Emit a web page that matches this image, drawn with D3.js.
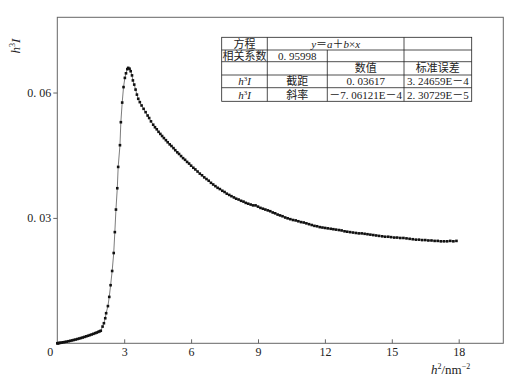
<!DOCTYPE html>
<html>
<head>
<meta charset="utf-8">
<script src="https://cdn.jsdelivr.net/npm/d3@7"></script>
<style>
body { margin: 0; background: #fff; }
text { font-family: "Liberation Serif", "Noto Sans CJK SC", serif; fill: #222; }
</style>
</head>
<body>
<div id="chart"></div>
<script>
// h^2 (nm^-2) values
var h2 = [
	0.00, 0.02, 0.05, 0.09, 0.14, 0.20, 0.27, 0.34, 0.42, 0.50, 0.58, 0.66, 0.74, 0.82, 0.90, 0.98,
	1.06, 1.14, 1.22, 1.30, 1.38, 1.46, 1.54, 1.62, 1.70, 1.77, 1.84, 1.90,
	1.95, 2.03, 2.09, 2.15, 2.19, 2.27, 2.33, 2.39, 2.46, 2.53, 2.58, 2.63, 2.69, 2.73, 2.81, 2.85,
	2.91, 2.97, 3.03, 3.08, 3.14, 3.18, 3.24, 3.29, 3.35, 3.39, 3.45, 3.51, 3.57, 3.63, 3.70, 3.78,
	3.87, 3.96, 4.05, 4.12, 4.20, 4.30,
	4.38, 4.46, 4.54, 4.62, 4.70, 4.78, 4.87, 4.95, 5.04, 5.12, 5.21, 5.29, 5.38, 5.46, 5.55, 5.64,
	5.73, 5.82, 5.91, 6.00, 6.10, 6.19, 6.29, 6.39, 6.49, 6.59, 6.69, 6.79, 6.89, 6.99, 7.09, 7.19,
	7.29, 7.40, 7.50, 7.60, 7.71, 7.81, 7.92, 8.02, 8.13, 8.24, 8.35, 8.45, 8.56, 8.67, 8.78, 8.89,
	9.00, 9.11, 9.22, 9.33, 9.44, 9.55, 9.66, 9.77, 9.88, 9.99, 10.10, 10.22, 10.33, 10.45, 10.57,
	10.69, 10.81, 10.93, 11.05, 11.17, 11.29, 11.41, 11.53, 11.65, 11.77, 11.89, 12.01, 12.13, 12.26,
	12.38, 12.50, 12.63, 12.75, 12.88, 13.00, 13.13, 13.26, 13.39, 13.52, 13.65, 13.78, 13.91, 14.04,
	14.17, 14.30, 14.43, 14.57, 14.70, 14.84, 14.97, 15.11, 15.24, 15.38, 15.52, 15.66, 15.80, 15.94,
	16.08, 16.22, 16.36, 16.50, 16.64, 16.78, 16.92, 17.06, 17.20, 17.34, 17.48, 17.62, 17.76, 17.90
];
// h^3 I values
var h3I = [
	0.00000, 0.00002, 0.00004, 0.00008, 0.00012, 0.00018, 0.00024, 0.00032, 0.00040, 0.00049, 0.00059, 0.00069, 0.00080, 0.00090, 0.00102, 0.00114,
	0.00126, 0.00139, 0.00153, 0.00167, 0.00181, 0.00196, 0.00211, 0.00227, 0.00243, 0.00258, 0.00273, 0.00288,
	0.0030, 0.0040, 0.0048, 0.0060, 0.0072, 0.0089, 0.0111, 0.0139, 0.0173, 0.0216, 0.0266, 0.0320, 0.0371, 0.0422, 0.0474, 0.0529,
	0.0576, 0.0613, 0.0635, 0.0646, 0.0656, 0.0659, 0.0657, 0.0651, 0.0641, 0.0629, 0.0619, 0.0607, 0.0595, 0.0585, 0.0577, 0.0569,
	0.0561, 0.0553, 0.0545, 0.0539, 0.0531, 0.0523,
	0.0517, 0.0512, 0.0506, 0.0501, 0.0496, 0.0491, 0.0486, 0.0481, 0.0476, 0.0472, 0.0467, 0.0462, 0.0457, 0.0453, 0.0448, 0.0443,
	0.0439, 0.0434, 0.0430, 0.0425, 0.0420, 0.0416, 0.0411, 0.0406, 0.0402, 0.0397, 0.0393, 0.0389, 0.0384, 0.0380, 0.0376, 0.0372,
	0.0369, 0.0365, 0.0362, 0.0358, 0.0355, 0.0352, 0.0349, 0.0346, 0.0344, 0.0341, 0.0339, 0.0336, 0.0334, 0.0332, 0.0330, 0.0330,
	0.0327, 0.0324, 0.0322, 0.0320, 0.0318, 0.0316, 0.0313, 0.0311, 0.0308, 0.0306, 0.0304, 0.0301, 0.0299, 0.0297, 0.0295,
	0.0294, 0.0292, 0.0290, 0.0289, 0.0287, 0.0285, 0.0283, 0.0281, 0.0280, 0.0278, 0.0277, 0.0276, 0.0275, 0.0274,
	0.0273, 0.0272, 0.0271, 0.0270, 0.0268, 0.0267, 0.0266, 0.0265, 0.0264, 0.0263, 0.0263, 0.0262, 0.0261, 0.0260,
	0.0259, 0.0258, 0.0257, 0.0256, 0.0255, 0.0255, 0.0254, 0.0253, 0.0253, 0.0252, 0.0252, 0.0251, 0.0250, 0.0249,
	0.0248, 0.0248, 0.0247, 0.0247, 0.0246, 0.0246, 0.0245, 0.0245, 0.0244, 0.0244, 0.0244, 0.0245, 0.0244, 0.0245
];

var xTicks = [3, 6, 9, 12, 15, 18];
var yTicks = [0.03, 0.06];
var yTickLabels = ["0. 03", "0. 06"];

// fit table (row 1 has a merged cell over columns 2-3)
var tableRows = [
	["方程", "y=a+b×x", null, ""],
	["相关系数", "0. 95998", "", ""],
	["", "", "数值", "标准误差"],
	["h3I", "截距", "0. 03617", "3. 24659E－4"],
	["h3I", "斜率", "－7. 06121E－4", "2. 30729E－5"]
];

var width = 527, height = 388;
var margin = {top: 17.3, right: 23.7, bottom: 44.7, left: 57.3};

var svg = d3.select("#chart").append("svg")
	.attr("width", width)
	.attr("height", height);

var x = d3.scaleLinear().domain([0, 20]).range([margin.left, width - margin.right]);
var y = d3.scaleLinear().domain([0, 0.078]).range([height - margin.bottom, margin.top]);

// frame
svg.append("rect")
	.attr("x", x(0)).attr("y", y(0.078))
	.attr("width", x(20) - x(0)).attr("height", y(0) - y(0.078))
	.attr("fill", "none").attr("stroke", "#666").attr("stroke-width", 1);

// x axis, ticks pointing inward
var xAxis = svg.append("g")
	.attr("transform", "translate(0," + y(0) + ")")
	.call(d3.axisBottom(x).tickValues(xTicks).tickSize(-4).tickPadding(4).tickFormat(d3.format("d")));
xAxis.select(".domain").remove();
xAxis.selectAll("line").attr("stroke", "#666");
xAxis.selectAll("text").attr("font-size", 12).attr("font-family", "Liberation Serif").attr("fill", "#222");

// y axis, ticks outward
var yAxis = svg.append("g")
	.attr("transform", "translate(" + x(0) + ",0)")
	.call(d3.axisLeft(y).tickValues(yTicks).tickSize(4).tickPadding(2)
		.tickFormat(function(d, i) { return yTickLabels[i]; }));
yAxis.select(".domain").remove();
yAxis.selectAll("line").attr("stroke", "#666");
yAxis.selectAll("text").attr("font-size", 12).attr("font-family", "Liberation Serif").attr("fill", "#222");

// shared origin label
svg.append("text")
	.attr("x", x(0) - 7).attr("y", y(0) + 13)
	.attr("text-anchor", "middle").attr("font-size", 12)
	.text("0");

// axis titles
var xt = svg.append("text")
	.attr("x", 431).attr("y", 374)
	.attr("font-size", 13);
xt.append("tspan").attr("font-style", "italic").text("h");
xt.append("tspan").attr("font-size", 8).attr("dy", -5).text("2");
xt.append("tspan").attr("dy", 5).text("/nm");
xt.append("tspan").attr("font-size", 8).attr("dy", -5).text("−2");

var yt = svg.append("text")
	.attr("transform", "translate(20,46) rotate(-90)")
	.attr("text-anchor", "middle")
	.attr("font-size", 13);
yt.append("tspan").attr("font-style", "italic").text("h");
yt.append("tspan").attr("font-size", 8).attr("dy", -5).text("3");
yt.append("tspan").attr("dy", 5).attr("font-style", "italic").text("I");

// curve
var pts = h2.map(function(d, i) { return [d, h3I[i]]; });

svg.append("path")
	.datum(pts)
	.attr("fill", "none")
	.attr("stroke", "#444")
	.attr("stroke-width", 0.7)
	.attr("d", d3.line().x(function(d) { return x(d[0]); }).y(function(d) { return y(d[1]); }));

svg.selectAll(".pt")
	.data(pts)
	.enter().append("rect")
	.attr("class", "pt")
	.attr("x", function(d) { return x(d[0]) - 1.3; })
	.attr("y", function(d) { return y(d[1]) - 1.3; })
	.attr("width", 2.6).attr("height", 2.6)
	.attr("fill", "#111");

// table
var colX = [221.7, 267.3, 327.3, 404, 471.7];
var rowY = [37.3, 50, 61.7, 75, 87.7, 101.3];
var tbl = svg.append("g").attr("stroke", "#222").attr("stroke-width", 0.8);

tbl.append("rect")
	.attr("x", colX[0]).attr("y", rowY[0])
	.attr("width", colX[4] - colX[0]).attr("height", rowY[5] - rowY[0])
	.attr("fill", "#fff");
rowY.slice(1, 5).forEach(function(ry) {
	tbl.append("line").attr("x1", colX[0]).attr("x2", colX[4]).attr("y1", ry).attr("y2", ry);
});
[1, 2, 3].forEach(function(c) {
	tbl.append("line")
		.attr("x1", colX[c]).attr("x2", colX[c])
		.attr("y1", c === 2 ? rowY[1] : rowY[0]).attr("y2", rowY[5]);
});

function addCell(txt, cx, cy) {
	var t = svg.append("text")
		.attr("x", cx).attr("y", cy + 4)
		.attr("text-anchor", "middle")
		.attr("font-size", 11);
	if (txt === "h3I") {
		t.append("tspan").attr("font-style", "italic").text("h");
		t.append("tspan").attr("font-size", 7).attr("dy", -4).text("3");
		t.append("tspan").attr("dy", 4).attr("font-style", "italic").text("I");
	} else if (txt === "y=a+b×x") {
		t.append("tspan").attr("font-style", "italic").text("y");
		t.append("tspan").text("＝");
		t.append("tspan").attr("font-style", "italic").text("a");
		t.append("tspan").text("＋");
		t.append("tspan").attr("font-style", "italic").text("b");
		t.append("tspan").text("×");
		t.append("tspan").attr("font-style", "italic").text("x");
	} else {
		t.text(txt);
	}
}

tableRows.forEach(function(row, r) {
	var cy = (rowY[r] + rowY[r + 1]) / 2;
	row.forEach(function(cell, c) {
		if (cell === null || cell === "") return;
		var cx = (colX[c] + colX[c + 1]) / 2;
		if (r === 0 && c === 1) cx = (colX[1] + colX[3]) / 2;
		addCell(cell, cx, cy);
	});
});
</script>
</body>
</html>
